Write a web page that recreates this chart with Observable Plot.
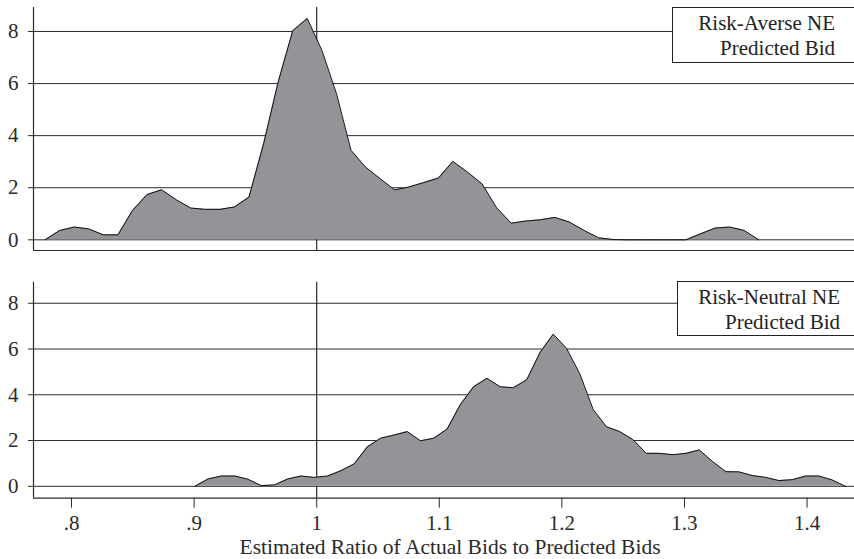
<!DOCTYPE html>
<html>
<head>
<meta charset="utf-8">
<script src="https://cdn.jsdelivr.net/npm/d3@7"></script>
<script src="https://cdn.jsdelivr.net/npm/@observablehq/plot@0.6"></script>
<style>
  html, body { margin: 0; padding: 0; background: #fff; }
  #chart { position: relative; width: 854px; height: 559px; overflow: hidden; font-family: 'Liberation Serif', serif; }
  #chart svg { display: block; }
  .key { position: absolute; box-sizing: border-box; border: 1px solid #222; background: #fff;
         font-family: 'Liberation Serif', serif; font-size: 21px; line-height: 24.5px;
         text-align: right; color: #222; padding-top: 3px; }
</style>
</head>
<body>
<div id="chart"></div>
<script>
// Kernel density of the ratio of actual bids to predicted bids,
// evaluated on a 50-point grid for each benchmark.
const averseRatio = [
  0.7785, 0.7904, 0.8023, 0.8141, 0.8260, 0.8379, 0.8498, 0.8617, 0.8735, 0.8854,
  0.8973, 0.9092, 0.9211, 0.9329, 0.9448, 0.9567, 0.9686, 0.9805, 0.9923, 1.0042,
  1.0161, 1.0280, 1.0399, 1.0517, 1.0636, 1.0755, 1.0874, 1.0993, 1.1111, 1.1230,
  1.1349, 1.1468, 1.1587, 1.1705, 1.1824, 1.1943, 1.2062, 1.2181, 1.2299, 1.2418,
  1.2537, 1.2656, 1.2775, 1.2893, 1.3012, 1.3131, 1.3250, 1.3369, 1.3487, 1.3606
];
const averseDensity = [
  0.00, 0.36, 0.49, 0.42, 0.19, 0.19, 1.13, 1.74, 1.92, 1.54,
  1.22, 1.17, 1.17, 1.26, 1.64, 3.69, 6.06, 8.03, 8.50, 7.28,
  5.62, 3.44, 2.79, 2.35, 1.92, 2.03, 2.20, 2.37, 3.01, 2.60,
  2.15, 1.23, 0.64, 0.72, 0.77, 0.86, 0.68, 0.36, 0.08, 0.01,
  0.00, 0.00, 0.00, 0.00, 0.00, 0.23, 0.45, 0.49, 0.36, 0.00
];
const neutralRatio = [
  0.9006, 0.9114, 0.9223, 0.9331, 0.9439, 0.9548, 0.9656, 0.9764, 0.9872, 0.9981,
  1.0089, 1.0197, 1.0306, 1.0414, 1.0522, 1.0631, 1.0739, 1.0847, 1.0955, 1.1064,
  1.1172, 1.1280, 1.1389, 1.1497, 1.1605, 1.1714, 1.1822, 1.1930, 1.2038, 1.2147,
  1.2255, 1.2363, 1.2472, 1.2580, 1.2688, 1.2797, 1.2905, 1.3013, 1.3121, 1.3230,
  1.3338, 1.3446, 1.3555, 1.3663, 1.3771, 1.3880, 1.3988, 1.4096, 1.4204, 1.4313
];
const neutralDensity = [
  0.00, 0.32, 0.45, 0.45, 0.31, 0.03, 0.06, 0.32, 0.45, 0.39,
  0.45, 0.68, 0.98, 1.73, 2.10, 2.24, 2.39, 1.99, 2.10, 2.50,
  3.57, 4.35, 4.72, 4.35, 4.31, 4.66, 5.85, 6.65, 6.03, 4.91,
  3.36, 2.61, 2.39, 2.04, 1.44, 1.44, 1.38, 1.44, 1.59, 1.08,
  0.64, 0.63, 0.47, 0.39, 0.25, 0.29, 0.45, 0.45, 0.28, 0.00
];
const yTicks = [0, 2, 4, 6, 8];
const xTicks = [0.8, 0.9, 1.0, 1.1, 1.2, 1.3, 1.4];
const xTickLabels = [".8", ".9", "1", "1.1", "1.2", "1.3", "1.4"];
const keyAverse = ["Risk-Averse NE", "Predicted Bid"];
const keyNeutral = ["Risk-Neutral NE", "Predicted Bid"];
const xTitle = "Estimated Ratio of Actual Bids to Predicted Bids";

const xDomain = [0.769, 1.4387];
const fillGray = "#939498";
const ink = "#2a2a2a";
const serif = "'Liberation Serif', serif";

function panel({ratio, density, yDomain, height, marginTop, marginBottom, showX}) {
  const rows = ratio.map((r, i) => ({r, d: density[i]}));
  const marks = [
    Plot.ruleY(yTicks, {stroke: ink, strokeWidth: 1}),
    Plot.ruleX([1], {stroke: ink, strokeWidth: 1.2}),
    Plot.areaY(rows, {x: "r", y: "d", fill: fillGray}),
    Plot.lineY(rows, {x: "r", y: "d", stroke: "#111", strokeWidth: 1}),
    Plot.ruleX([xDomain[0]], {stroke: ink, strokeWidth: 1.2}),
    Plot.ruleY([yDomain[0]], {stroke: ink, strokeWidth: 1.2}),
    Plot.axisY({ticks: yTicks, tickSize: 5, tickPadding: 10, fontSize: 21, label: null,
                fontFamily: serif, tickFormat: d => String(d), stroke: ink})
  ];
  if (showX) {
    marks.push(Plot.axisX({ticks: xTicks, tickSize: 10, tickPadding: 7, fontSize: 21, label: null,
                           fontFamily: serif, tickFormat: d => xTickLabels[xTicks.indexOf(d)], stroke: ink}));
    marks.push(Plot.text([xTitle], {frameAnchor: "bottom", dy: 49, dx: 6, text: d => d, fontFamily: serif,
                                    fontSize: 21.5, fill: ink, lineAnchor: "middle"}));
  }
  return Plot.plot({
    width: 854,
    height,
    marginLeft: 33,
    marginRight: 0,
    marginTop,
    marginBottom,
    style: {fontFamily: serif, color: ink, background: "#fff", overflow: "visible"},
    x: {domain: xDomain, axis: null},
    y: {domain: yDomain, axis: null},
    marks
  });
}

const chart = document.getElementById("chart");
chart.append(panel({ratio: averseRatio, density: averseDensity, yDomain: [-0.41, 8.92],
                    height: 256, marginTop: 7, marginBottom: 6, showX: false}));
chart.append(panel({ratio: neutralRatio, density: neutralDensity, yDomain: [-0.52, 8.92],
                    height: 303, marginTop: 25.7, marginBottom: 61.3, showX: true}));

// Boxed panel keys, right-aligned text, running off the right edge.
function addKey(lines, left, top, height, rightPad) {
  const div = document.createElement("div");
  div.className = "key";
  div.style.left = left + "px";
  div.style.top = top + "px";
  div.style.width = (870 - left) + "px";
  div.style.height = height + "px";
  div.style.paddingRight = rightPad + "px";
  lines.forEach(t => { const s = document.createElement("div"); s.textContent = t; div.append(s); });
  chart.append(div);
}
addKey(keyAverse, 672, 7, 56, 870 - 836);
addKey(keyNeutral, 677, 281, 55, 870 - 841);
</script>
</body>
</html>
